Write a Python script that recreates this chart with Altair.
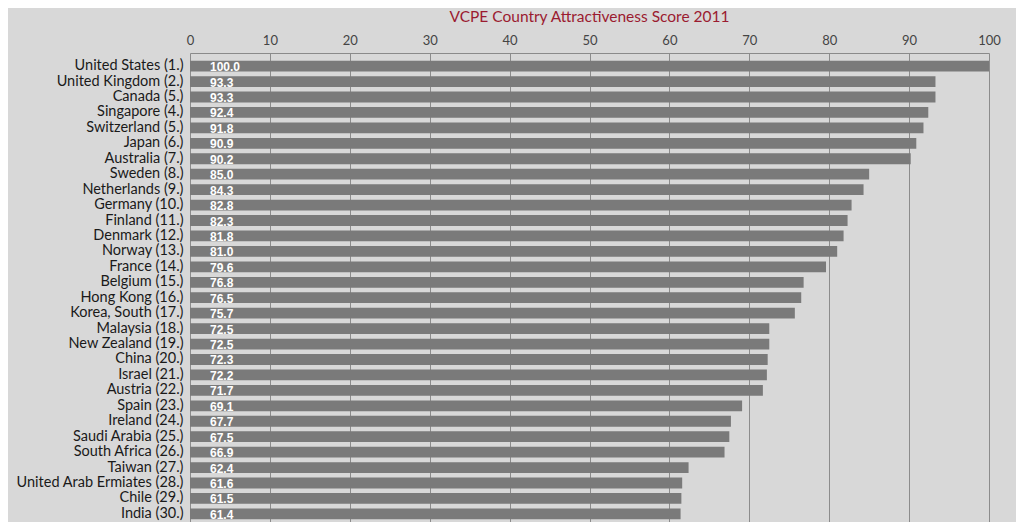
import altair as alt
import pandas as pd

countries = [
    "United States (1.)", "United Kingdom (2.)", "Canada (5.)", "Singapore (4.)",
    "Switzerland (5.)", "Japan (6.)", "Australia (7.)", "Sweden (8.)",
    "Netherlands (9.)", "Germany (10.)", "Finland (11.)", "Denmark (12.)",
    "Norway (13.)", "France (14.)", "Belgium (15.)", "Hong Kong (16.)",
    "Korea, South (17.)", "Malaysia (18.)", "New Zealand (19.)", "China (20.)",
    "Israel (21.)", "Austria (22.)", "Spain (23.)", "Ireland (24.)",
    "Saudi Arabia (25.)", "South Africa (26.)", "Taiwan (27.)",
    "United Arab Ermiates (28.)", "Chile (29.)", "India (30.)",
]
scores = [
    100.0, 93.3, 93.3, 92.4, 91.8, 90.9, 90.2, 85.0, 84.3, 82.8,
    82.3, 81.8, 81.0, 79.6, 76.8, 76.5, 75.7, 72.5, 72.5, 72.3,
    72.2, 71.7, 69.1, 67.7, 67.5, 66.9, 62.4, 61.6, 61.5, 61.4,
]
x_ticks = [0, 10, 20, 30, 40, 50, 60, 70, 80, 90, 100]

df = pd.DataFrame({"country": countries, "score": scores})

BG = "#d8d8d8"

y_enc = alt.Y(
    "country:N",
    sort=countries,
    title=None,
    scale=alt.Scale(paddingInner=0.3, paddingOuter=0.5),
    axis=alt.Axis(
        domain=False, ticks=False, grid=False, labelFontSize=14.5,
        labelColor="#1a1a1a", labelPadding=7, labelLimit=0, labelFont="Lato",
    ),
)

bars = alt.Chart(df).mark_bar(color="#7a7a7a").encode(
    x=alt.X(
        "score:Q",
        title=None,
        scale=alt.Scale(domain=[0, 100], nice=False),
        axis=alt.Axis(
            orient="top", values=x_ticks, ticks=False, domain=True,
            domainColor="#8a8a8a", gridColor="#8c8c8c", gridOpacity=1,
            labelFontSize=13, labelColor="#444444", labelPadding=6,
            labelFont="Lato", labelFlush=False,
        ),
    ),
    y=y_enc,
)

labels = alt.Chart(df).mark_text(
    align="left", baseline="middle", dx=20, dy=1, color="white",
    fontWeight="bold", fontSize=12, font="Liberation Sans",
).encode(
    x=alt.datum(0),
    y=alt.Y("country:N", sort=countries),
    text=alt.Text("score:Q", format=".1f"),
)

chart = alt.layer(bars, labels).properties(
    width=799,
    height=474,
    background=BG,
    padding={"left": 182, "top": 45, "right": 27, "bottom": 0},
    autosize=alt.AutoSizeParams(type="none"),
    title=alt.Title(
        "VCPE Country Attractiveness Score 2011",
        color="#9b1b30", fontSize=15.5, font="Lato", fontWeight="normal",
        anchor="middle", offset=9,
    ),
).configure_view(stroke=None).configure_axis(gridWidth=1)

chart.save("out.html", embed_options={"renderer": "svg", "actions": False})
